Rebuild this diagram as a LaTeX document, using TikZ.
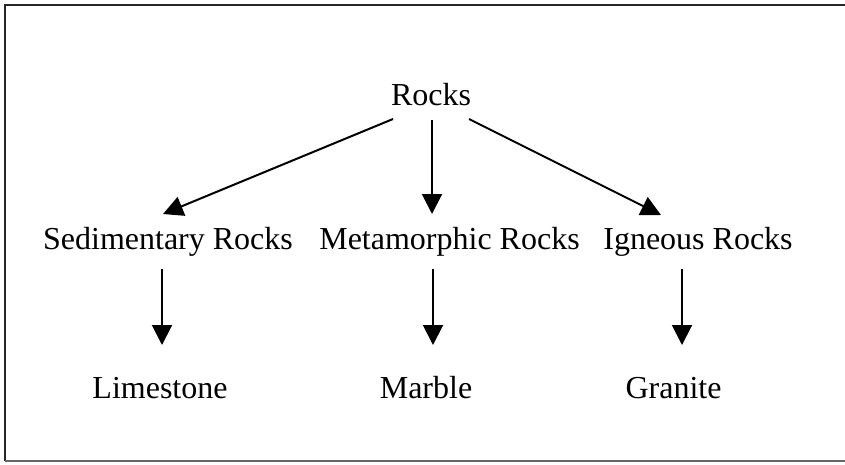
\documentclass[tikz,border=0pt]{standalone}
\usepackage{fontspec}
\setmainfont{Liberation Serif}
\usetikzlibrary{arrows.meta,calc}

\begin{document}
\begin{tikzpicture}[x=1pt,y=-1pt,
  label/.style={anchor=base,inner sep=0pt,font=\fontsize{32}{36}\selectfont},
  arr/.style={line width=2pt,-{Triangle[length=20pt,width=20pt]}},
  frameline/.style={line width=2pt,black!85}]
  % page extent
  \useasboundingbox (0,0) rectangle (845,464);

  % open frame: top, left and bottom edges
  \draw[frameline] (845,5) -- (5,5) -- (5,461);
  \draw[line width=1.6pt,black!60] (5,461) -- (845,461);

  % labels
  \node[label] (rocks)   at (431,105)   {Rocks};
  \node[label] (sed)     at (168,249)   {Sedimentary Rocks};
  \node[label] (met)     at (449.5,249) {Metamorphic Rocks};
  \node[label] (ign)     at (698,249)   {Igneous Rocks};
  \node[label] (lime)    at (160,398)   {Limestone};
  \node[label] (marble)  at (426,398)   {Marble};
  \node[label] (granite) at (673.5,398) {Granite};

  % first level
  \draw[arr] ($(rocks.base)+(-38,14)$) -- ($(sed.base)+(-5,-35)$);
  \draw[arr] ($(rocks.base)+(1,15)$)   -- ($(met.base)+(-17.5,-35)$);
  \draw[arr] ($(rocks.base)+(38,14)$)  -- ($(ign.base)+(-37,-34)$);

  % second level
  \draw[arr] ($(sed.base)+(-6,20)$)    -- ($(lime.base)+(2,-53)$);
  \draw[arr] ($(met.base)+(-16.5,20)$) -- ($(marble.base)+(7,-53)$);
  \draw[arr] ($(ign.base)+(-16,20)$)   -- ($(granite.base)+(8.5,-53)$);
\end{tikzpicture}
\end{document}
